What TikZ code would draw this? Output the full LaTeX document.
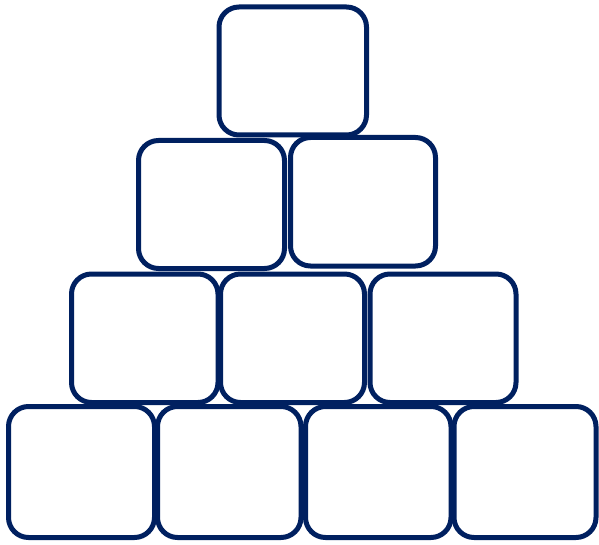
\documentclass[tikz,border=0pt]{standalone}
\usetikzlibrary{positioning}
\definecolor{navy}{RGB}{0,32,96}
\begin{document}
\begin{tikzpicture}[x=1pt,y=-1pt,
  blockbox/.style={draw=navy, line width=5pt, rounded corners=20pt}]
\useasboundingbox (0,0) rectangle (599,545);
% row 1
\draw[blockbox] (219,7) rectangle (366.5,135) coordinate (r1a);
% row 2
\draw[blockbox] (138.5,140.5) rectangle (284.5,268.5) coordinate (r2a);
\draw[blockbox] (290.5,137.5) rectangle (435.5,266) coordinate (r2b);
% row 3
\draw[blockbox] (71.5,274) rectangle (218,402.5) coordinate (r3a);
\draw[blockbox] (220.5,274) rectangle (364.5,402.5) coordinate (r3b);
\draw[blockbox] (370,274) rectangle (516,402.5) coordinate (r3c);
% row 4
\draw[blockbox] (8.5,406.5) rectangle (154.5,537.5) coordinate (r4a);
\draw[blockbox] (157.5,406.5) rectangle (301,537.5) coordinate (r4b);
\draw[blockbox] (305.5,406.5) rectangle (451,537.5) coordinate (r4c);
\draw[blockbox] (454,406.5) rectangle (596,537.5) coordinate (r4d);
\end{tikzpicture}
\end{document}
